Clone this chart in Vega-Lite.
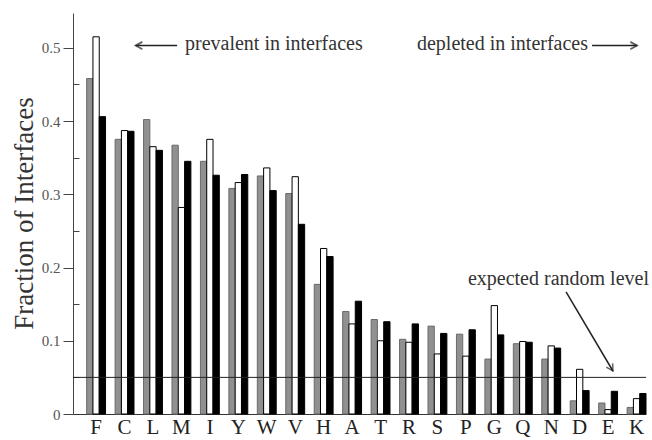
{
  "$schema": "https://vega.github.io/schema/vega-lite/v6.json",
  "autosize": {"type": "none"},
  "width": 573,
  "height": 401,
  "padding": {"left": 73, "top": 13, "right": 6, "bottom": 26},
  "background": "white",
  "config": {
    "view": {"stroke": null},
    "font": "Liberation Serif",
    "text": {"font": "Liberation Serif"}
  },
  "datasets": {
    "bars": [
      {"res": "F", "set": "s1", "frac": 0.458}, {"res": "F", "set": "s2", "frac": 0.515}, {"res": "F", "set": "s3", "frac": 0.406},
      {"res": "C", "set": "s1", "frac": 0.375}, {"res": "C", "set": "s2", "frac": 0.387}, {"res": "C", "set": "s3", "frac": 0.386},
      {"res": "L", "set": "s1", "frac": 0.402}, {"res": "L", "set": "s2", "frac": 0.365}, {"res": "L", "set": "s3", "frac": 0.360},
      {"res": "M", "set": "s1", "frac": 0.367}, {"res": "M", "set": "s2", "frac": 0.282}, {"res": "M", "set": "s3", "frac": 0.345},
      {"res": "I", "set": "s1", "frac": 0.345}, {"res": "I", "set": "s2", "frac": 0.375}, {"res": "I", "set": "s3", "frac": 0.326},
      {"res": "Y", "set": "s1", "frac": 0.308}, {"res": "Y", "set": "s2", "frac": 0.316}, {"res": "Y", "set": "s3", "frac": 0.327},
      {"res": "W", "set": "s1", "frac": 0.325}, {"res": "W", "set": "s2", "frac": 0.336}, {"res": "W", "set": "s3", "frac": 0.305},
      {"res": "V", "set": "s1", "frac": 0.301}, {"res": "V", "set": "s2", "frac": 0.324}, {"res": "V", "set": "s3", "frac": 0.259},
      {"res": "H", "set": "s1", "frac": 0.177}, {"res": "H", "set": "s2", "frac": 0.226}, {"res": "H", "set": "s3", "frac": 0.215},
      {"res": "A", "set": "s1", "frac": 0.140}, {"res": "A", "set": "s2", "frac": 0.123}, {"res": "A", "set": "s3", "frac": 0.154},
      {"res": "T", "set": "s1", "frac": 0.129}, {"res": "T", "set": "s2", "frac": 0.100}, {"res": "T", "set": "s3", "frac": 0.126},
      {"res": "R", "set": "s1", "frac": 0.102}, {"res": "R", "set": "s2", "frac": 0.098}, {"res": "R", "set": "s3", "frac": 0.123},
      {"res": "S", "set": "s1", "frac": 0.120}, {"res": "S", "set": "s2", "frac": 0.082}, {"res": "S", "set": "s3", "frac": 0.110},
      {"res": "P", "set": "s1", "frac": 0.109}, {"res": "P", "set": "s2", "frac": 0.079}, {"res": "P", "set": "s3", "frac": 0.115},
      {"res": "G", "set": "s1", "frac": 0.075}, {"res": "G", "set": "s2", "frac": 0.148}, {"res": "G", "set": "s3", "frac": 0.108},
      {"res": "Q", "set": "s1", "frac": 0.096}, {"res": "Q", "set": "s2", "frac": 0.099}, {"res": "Q", "set": "s3", "frac": 0.098},
      {"res": "N", "set": "s1", "frac": 0.075}, {"res": "N", "set": "s2", "frac": 0.093}, {"res": "N", "set": "s3", "frac": 0.090},
      {"res": "D", "set": "s1", "frac": 0.018}, {"res": "D", "set": "s2", "frac": 0.061}, {"res": "D", "set": "s3", "frac": 0.032},
      {"res": "E", "set": "s1", "frac": 0.015}, {"res": "E", "set": "s2", "frac": 0.006}, {"res": "E", "set": "s3", "frac": 0.031},
      {"res": "K", "set": "s1", "frac": 0.009}, {"res": "K", "set": "s2", "frac": 0.021}, {"res": "K", "set": "s3", "frac": 0.028}
    ],
    "labels": [
      {"label": "prevalent in interfaces", "gx": 3.32, "v": 0.497},
      {"label": "depleted in interfaces", "gx": 11.88, "v": 0.497},
      {"label": "expected random level", "gx": 13.76, "v": 0.176}
    ],
    "arrows": [
      {"name": "prevalent", "gx": 3.03, "gx2": 1.5, "v": 0.503, "v2": 0.503},
      {"name": "depleted", "gx": 18.34, "gx2": 20.0, "v": 0.503, "v2": 0.503},
      {"name": "random", "gx": 17.38, "gx2": 19.11, "v": 0.1667, "v2": 0.0587}
    ],
    "level": [{"expected": 0.05}]
  },
  "resolve": {"scale": {"x": "independent"}, "axis": {"y": "independent"}},
  "layer": [
    {
      "data": {"name": "bars"},
      "mark": {"type": "bar", "strokeWidth": 1},
      "encoding": {
        "x": {
          "field": "res", "type": "nominal",
          "sort": ["F","C","L","M","I","Y","W","V","H","A","T","R","S","P","G","Q","N","D","E","K"],
          "scale": {"paddingInner": 0.336, "paddingOuter": 0.24, "align": 1},
          "axis": {
            "title": null, "labelAngle": 0, "ticks": false,
            "labelFont": "Liberation Serif", "labelFontSize": 21, "labelColor": "#222",
            "labelPadding": 2, "domainColor": "#333", "domainWidth": 1
          }
        },
        "xOffset": {"field": "set", "type": "nominal", "sort": ["s1","s2","s3"], "scale": {"paddingInner": 0, "paddingOuter": 0}},
        "y": {
          "field": "frac", "type": "quantitative",
          "scale": {"domain": [0, 0.5475], "nice": false, "zero": true},
          "axis": {
            "title": "Fraction of Interfaces",
            "titleFont": "Liberation Serif", "titleFontSize": 27, "titleFontWeight": "normal", "titleColor": "#333",
            "titleX": -41, "titleY": 200, "titleBaseline": "alphabetic", "titleAngle": -90, "titleAlign": "center",
            "values": [0, 0.05, 0.1, 0.15, 0.2, 0.25, 0.3, 0.35, 0.4, 0.45, 0.5],
            "labelExpr": "round(datum.value*20) % 2 == 1 ? '' : (datum.value == 0 ? '0' : format(datum.value, '.1f'))",
            "labelFont": "Liberation Serif", "labelFontSize": 15, "labelColor": "#555",
            "labelPadding": 3,
            "tickSize": {"condition": {"test": "round(datum.value*20) % 2 == 1", "value": -6}, "value": 10},
            "tickColor": "#444", "domainColor": "#444", "grid": false
          }
        },
        "fill": {"field": "set", "type": "nominal", "scale": {"domain": ["s1","s2","s3"], "range": ["#909090", "#ffffff", "#000000"]}, "legend": null},
        "stroke": {"field": "set", "type": "nominal", "scale": {"domain": ["s1","s2","s3"], "range": ["#6a6a6a", "#000000", "#000000"]}, "legend": null}
      }
    },
    {
      "data": {"name": "level"},
      "mark": {"type": "rule", "color": "#222", "strokeWidth": 1},
      "encoding": {"y": {"field": "expected", "type": "quantitative", "axis": null}}
    },
    {
      "layer": [
        {
          "data": {"name": "labels"},
          "mark": {"type": "text", "align": "left", "baseline": "alphabetic", "fontSize": 20, "font": "Liberation Serif", "color": "#333"},
          "encoding": {
            "x": {"field": "gx", "type": "quantitative", "scale": {"domain": [-0.812, 20.33], "nice": false, "zero": false}, "axis": null},
            "y": {"field": "v", "type": "quantitative", "axis": null},
            "text": {"field": "label"}
          }
        },
        {
          "data": {"name": "arrows"},
          "mark": {"type": "rule", "color": "#222", "strokeWidth": 1.5},
          "encoding": {
            "x": {"field": "gx", "type": "quantitative", "scale": {"domain": [-0.812, 20.33], "nice": false, "zero": false}, "axis": null},
            "x2": {"field": "gx2"},
            "y": {"field": "v", "type": "quantitative", "axis": null},
            "y2": {"field": "v2"}
          }
        },
        {
          "data": {"name": "arrows"},
          "transform": [{"filter": "datum.name == 'prevalent'"}],
          "mark": {"type": "point", "shape": "M-1,-0.55L0,0L-1,0.55", "filled": false, "stroke": "#222", "strokeWidth": 1.8, "size": 180, "angle": 180},
          "encoding": {
            "x": {"field": "gx2", "type": "quantitative", "scale": {"domain": [-0.812, 20.33], "nice": false, "zero": false}, "axis": null},
            "y": {"field": "v2", "type": "quantitative", "axis": null}
          }
        },
        {
          "data": {"name": "arrows"},
          "transform": [{"filter": "datum.name == 'depleted'"}],
          "mark": {"type": "point", "shape": "M-1,-0.55L0,0L-1,0.55", "filled": false, "stroke": "#222", "strokeWidth": 1.8, "size": 180, "angle": 0},
          "encoding": {
            "x": {"field": "gx2", "type": "quantitative", "scale": {"domain": [-0.812, 20.33], "nice": false, "zero": false}, "axis": null},
            "y": {"field": "v2", "type": "quantitative", "axis": null}
          }
        },
        {
          "data": {"name": "arrows"},
          "transform": [{"filter": "datum.name == 'random'"}],
          "mark": {"type": "point", "shape": "M-1,-0.55L0,0L-1,0.55", "filled": false, "stroke": "#222", "strokeWidth": 1.5, "size": 180, "angle": 59},
          "encoding": {
            "x": {"field": "gx2", "type": "quantitative", "scale": {"domain": [-0.812, 20.33], "nice": false, "zero": false}, "axis": null},
            "y": {"field": "v2", "type": "quantitative", "axis": null}
          }
        }
      ]
    }
  ]
}
